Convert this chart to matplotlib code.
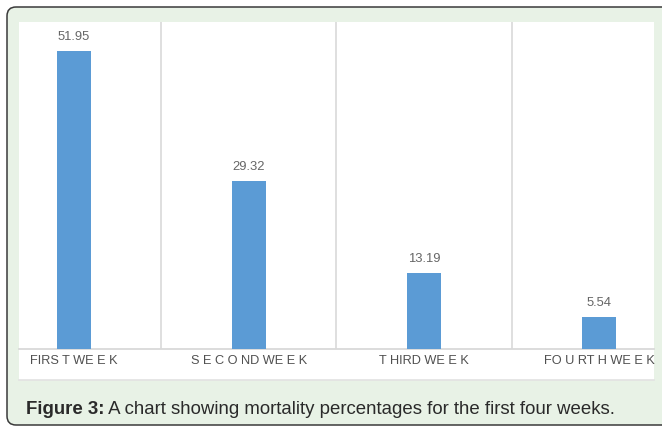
import matplotlib.pyplot as plt
from matplotlib.patches import FancyBboxPatch, Rectangle

plt.rcParams['font.family'] = ['Liberation Sans', 'DejaVu Sans']

weeks = ['FIRS T WE E K', 'S E C O ND WE E K', 'T HIRD WE E K', 'FO U RT H WE E K']
mortality = [51.95, 29.32, 13.19, 5.54]

W, H = 6.62, 4.26
fig = plt.figure(figsize=(W, H), dpi=100)
fig.patch.set_facecolor('white')

# outer green box with rounded corners (inches)
box = FancyBboxPatch((0.07, 0.01), 6.7, 4.18, boxstyle='round,pad=0,rounding_size=0.09',
                     transform=fig.dpi_scale_trans, facecolor='#e8f2e6',
                     edgecolor='#3a3a3a', linewidth=1.1, zorder=-3)
fig.patches.append(box)

# white chart panel
panel = Rectangle((0.19, 0.46), 6.35, 3.58, transform=fig.dpi_scale_trans,
                  facecolor='white', edgecolor='none', zorder=-2)
fig.patches.append(panel)
fig.add_artist(plt.Line2D([0.19, 6.54], [0.46, 0.46], transform=fig.dpi_scale_trans,
                          color='#e2e2e2', lw=1.2, zorder=-1))

ax = fig.add_axes([0.19 / W, 0.77 / H, 6.35 / W, 3.27 / H])
ax.set_facecolor('none')

x = list(range(len(weeks)))
bars = ax.bar(x, mortality, width=0.19, color='#5b9bd5', zorder=3)

for b, v in zip(bars, mortality):
    ax.annotate(f'{v:.2f}', xy=(b.get_x() + b.get_width() / 2, v),
                xytext=(0, 8), textcoords='offset points',
                ha='center', va='baseline', fontsize=9.4, color='#666666')

ax.set_xlim(-0.314, 3.314)
ax.set_ylim(0, 57.0)
ax.set_xticks(x)
ax.set_xticklabels(weeks, fontsize=9.2, color='#505050')
ax.set_xticks([0.5, 1.5, 2.5], minor=True)
ax.tick_params(axis='x', which='both', length=0, pad=4)
ax.set_yticks([])
ax.grid(axis='x', which='minor', color='#dcdcdc', lw=1.3, zorder=0)

for s in ['top', 'right', 'left']:
    ax.spines[s].set_visible(False)
ax.spines['bottom'].set_color('#d9d9d9')
ax.spines['bottom'].set_linewidth(1.3)

t1 = fig.text(0.26 / W, 0.17 / H, 'Figure 3:', fontsize=13.4, fontweight='bold',
              color='#2a2a2a', va='center')
ax.annotate(' A chart showing mortality percentages for the first four weeks.',
            xy=(1, 0), xycoords=t1, va='bottom', ha='left',
            fontsize=13.4, color='#2a2a2a', annotation_clip=False)

fig.savefig('out.png', dpi=100)
